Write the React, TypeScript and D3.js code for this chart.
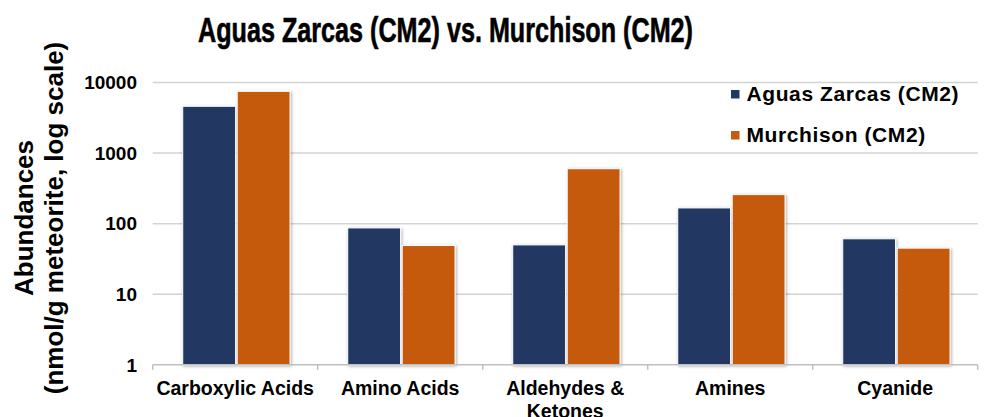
import React from "react";
import * as d3 from "d3";

const categories: string[][] = [
  ["Carboxylic Acids"],
  ["Amino Acids"],
  ["Aldehydes &", "Ketones"],
  ["Amines"],
  ["Cyanide"],
];
const seriesNames = ["Aguas Zarcas (CM2)", "Murchison (CM2)"];
const aguasZarcas = [4600, 87, 50, 167, 61];
const murchison = [7500, 49, 600, 258, 45];
const yTicks = [1, 10, 100, 1000, 10000];
const colors = ["#203864", "#C55A11"];

const W = 984;
const H = 417;
const FONT = "'Liberation Sans', Arial, sans-serif";

export default function App() {
  const left = 152.7;
  const right = 977.7;
  const top = 82.5;
  const bottom = 364.8;
  const catKeys = categories.map((c) => c.join(" "));
  const x0 = d3.scaleBand<string>().domain(catKeys).range([left, right]).padding(0);
  const bw = x0.bandwidth();
  const x1 = d3
    .scaleBand<string>()
    .domain(seriesNames)
    .range([bw * 0.182, bw * 0.182 + 107.3])
    .paddingInner(0.03)
    .paddingOuter(0);
  const y = d3.scaleLog().domain([1, 10000]).range([bottom, top]);
  const series = [aguasZarcas, murchison];

  return (
    <svg
      width={W}
      height={H}
      style={{ position: "absolute", left: 0, top: 0, background: "#fff" }}
      fontFamily={FONT}
    >
      <defs>
        <filter id="shadow" x="-20%" y="-20%" width="140%" height="140%">
          <feDropShadow dx="1" dy="1" stdDeviation="1.6" floodColor="#000" floodOpacity="0.35" />
        </filter>
      </defs>
      <rect x={0} y={0} width={W} height={H} fill="#fff" />
      {/* Title */}
      <text
        x={445.5}
        y={42}
        textAnchor="middle"
        fontSize={35}
        fontWeight="bold"
        textLength={495}
        lengthAdjust="spacingAndGlyphs"
        fill="#000"
        stroke="#000"
        strokeWidth={0.6}
      >
        Aguas Zarcas (CM2) vs. Murchison (CM2)
      </text>

      {/* Gridlines */}
      {yTicks.slice(1).map((t) => (
        <line key={t} x1={left} x2={right} y1={y(t)} y2={y(t)} stroke="#d3d3d3" strokeWidth={1.5} />
      ))}

      {/* Bars */}
      {catKeys.map((c, i) => (
        <g key={c} transform={`translate(${x0(c)},0)`}>
          {seriesNames.map((s, j) => (
            <rect
              key={s}
              x={x1(s)}
              y={y(series[j][i])}
              width={x1.bandwidth()}
              height={bottom - y(series[j][i])}
              fill={colors[j]}
              stroke="#fff"
              strokeWidth={1}
              filter="url(#shadow)"
            />
          ))}
        </g>
      ))}

      {/* X axis */}
      <line x1={left} x2={right} y1={bottom} y2={bottom} stroke="#bfbfbf" strokeWidth={1.5} />
      {[...catKeys.map((c) => x0(c) as number), right].map((xv, i) => (
        <line key={i} x1={xv} x2={xv} y1={bottom} y2={bottom + 5} stroke="#bfbfbf" strokeWidth={1.5} />
      ))}
      {categories.map((lines, i) => (
        <text
          key={i}
          x={(x0(catKeys[i]) as number) + bw / 2}
          y={395}
          textAnchor="middle"
          fontSize={19.5}
          fontWeight="bold"
          fill="#000"
        >
          {lines.map((ln, k) => (
            <tspan key={k} x={(x0(catKeys[i]) as number) + bw / 2} dy={k === 0 ? 0 : 23}>
              {ln}
            </tspan>
          ))}
        </text>
      ))}

      {/* Y tick labels */}
      {yTicks.map((t) => (
        <text
          key={t}
          x={137}
          y={y(t)}
          dy="0.36em"
          textAnchor="end"
          fontSize={19}
          fontWeight="bold"
          fill="#000"
        >
          {d3.format("d")(t)}
        </text>
      ))}

      {/* Y axis title */}
      <g transform="translate(0,218) rotate(-90)">
        <text x={0} y={33} textAnchor="middle" fontSize={26} fontWeight="bold" fill="#000">
          Abundances
        </text>
        <text x={0} y={63} textAnchor="middle" fontSize={26} fontWeight="bold" fill="#000">
          (nmol/g meteorite, log scale)
        </text>
      </g>

      {/* Legend */}
      {seriesNames.map((s, j) => (
        <g key={s} transform={`translate(731,${90 + j * 41})`}>
          <rect x={0} y={0} width={8.5} height={8.5} fill={colors[j]} />
          <text x={15.5} y={10.5} fontSize={21} fontWeight="bold" letterSpacing={0.6} fill="#000">
            {s}
          </text>
        </g>
      ))}
    </svg>
  );
}
